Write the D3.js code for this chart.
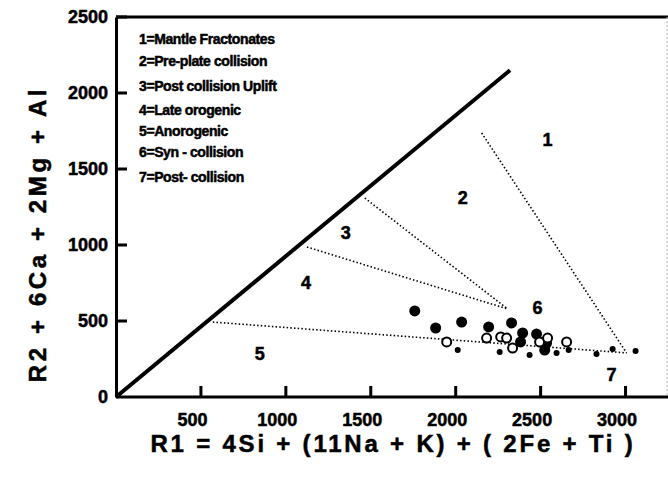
<!DOCTYPE html>
<html>
<head>
<meta charset="utf-8">
<script src="https://cdn.jsdelivr.net/npm/d3@7"></script>
<style>
  html, body { margin: 0; padding: 0; background: #fff; }
  svg { display: block; }
  text { font-family: "Liberation Sans", Arial, sans-serif; font-weight: bold; fill: #000; }
</style>
</head>
<body>
<svg id="chart" width="668" height="483"></svg>
<script>
// R1-R2 discrimination diagram (Batchelor & Bowden style)

// Axis ticks
const xTicks = [500, 1000, 1500, 2000, 2500, 3000];
const yTicks = [0, 500, 1000, 1500, 2000, 2500];

// Legend entries
const legendItems = [
  "1=Mantle Fractonates",
  "2=Pre-plate collision",
  "3=Post collision Uplift",
  "4=Late orogenic",
  "5=Anorogenic",
  "6=Syn - collision",
  "7=Post- collision"
];

// Field boundary lines: [R1, R2] end points
const mantleLine = [[0, 0], [2320, 2150]];
const field1Line = [[2153, 1737], [3006, 290]];
const field23Line = [[1465, 1309], [2306, 579]];
const field34Line = [[1124, 987], [2306, 579]];
const field45Line = [[570, 493], [3006, 290]];

// Field numbers: [label, R1, R2]
const fieldLabels = [
  ["1", 2541, 1691],
  ["2", 2041, 1309],
  ["3", 1353, 1079],
  ["4", 1118, 750],
  ["5", 847, 283],
  ["6", 2482, 586],
  ["7", 2918, 145]
];

// Samples: [R1, R2]
const filledSamples = [
  [1759, 566], [1882, 454], [2035, 493], [2194, 461], [2329, 487],
  [2394, 421], [2382, 362], [2476, 414], [2524, 309], [2535, 355]
];
const openSamples = [
  [1947, 362], [2182, 388], [2265, 395], [2300, 388], [2335, 322],
  [2494, 362], [2541, 388], [2653, 362]
];
const smallSamples = [
  [2012, 309], [2259, 296], [2435, 276], [2594, 289], [2665, 309],
  [2829, 283], [2924, 316], [3059, 303]
];

const svg = d3.select("#chart");
const x = d3.scaleLinear().domain([0, 3250]).range([116, 668]);
const y = d3.scaleLinear().domain([0, 2500]).range([397, 17]);
const heavy = sel => sel.attr("stroke", "#000").attr("stroke-width", 0.5);

// Frame: top and right borders
svg.append("line").attr("x1", x(0)).attr("x2", 668).attr("y1", y(2500)).attr("y2", y(2500))
  .attr("stroke", "#000").attr("stroke-width", 3);
svg.append("line").attr("x1", 667).attr("x2", 667).attr("y1", y(2500)).attr("y2", y(0))
  .attr("stroke", "#bbb").attr("stroke-width", 1).attr("stroke-dasharray", "2 2");

// X axis (labels) and inward tick marks
const xAxis = svg.append("g").attr("transform", `translate(0,${y(0)})`)
  .call(d3.axisBottom(x).tickValues(xTicks).tickFormat(d3.format("d"))
    .tickSize(0).tickSizeOuter(0).tickPadding(16));
xAxis.select(".domain").attr("stroke-width", 3).attr("d", `M${x(0)},0H668`);
xAxis.selectAll(".tick text").attr("font-size", 18).attr("font-weight", "bold")
  .attr("font-family", "Liberation Sans, Arial, sans-serif").attr("dx", -9).call(heavy);
svg.append("g").attr("class", "xticks").selectAll("rect").data(xTicks).join("rect")
  .attr("x", d => x(d) - 1.5).attr("y", y(0) - 11).attr("width", 3).attr("height", 11)
  .attr("fill", "#000");

// Y axis (labels) and inward tick marks
const yAxis = svg.append("g").attr("transform", `translate(${x(0)},0)`)
  .call(d3.axisLeft(y).tickValues(yTicks).tickFormat(d3.format("d"))
    .tickSize(0).tickSizeOuter(0).tickPadding(8));
yAxis.select(".domain").attr("stroke-width", 3);
yAxis.selectAll(".tick text").attr("font-size", 18).attr("font-weight", "bold")
  .attr("font-family", "Liberation Sans, Arial, sans-serif").call(heavy);
svg.append("g").attr("class", "yticks").selectAll("rect").data(yTicks.filter(d => d > 0)).join("rect")
  .attr("x", x(0)).attr("y", d => y(d) - 1.5).attr("width", 11).attr("height", 3)
  .attr("fill", "#000");

// Axis titles
svg.append("text").attr("x", 393).attr("y", 452).attr("text-anchor", "middle")
  .attr("font-size", 24).attr("letter-spacing", 2.8).call(heavy)
  .text("R1 = 4Si + (11Na + K) + ( 2Fe + Ti )");
svg.append("text").attr("transform", "translate(46,234) rotate(-90)").attr("text-anchor", "middle")
  .attr("font-size", 24).attr("letter-spacing", 3.6).call(heavy)
  .text("R2 + 6Ca + 2Mg + Al");

// Field boundaries
const line = d3.line().x(d => x(d[0])).y(d => y(d[1]));
svg.append("path").attr("d", line(mantleLine)).attr("stroke", "#000").attr("stroke-width", 4)
  .attr("fill", "none");
[field1Line, field23Line, field34Line, field45Line].forEach(seg => {
  svg.append("path").attr("d", line(seg)).attr("stroke", "#000").attr("stroke-width", 1.6)
    .attr("stroke-dasharray", "1.5 2.2").attr("fill", "none");
});

// Field numbers
svg.selectAll(".field").data(fieldLabels).join("text").attr("class", "field")
  .attr("x", d => x(d[1])).attr("y", d => y(d[2])).attr("text-anchor", "middle")
  .attr("dominant-baseline", "central").attr("font-size", 18).call(heavy).text(d => d[0]);

// Legend
svg.selectAll(".legend").data(legendItems).join("text").attr("class", "legend")
  .attr("x", 139).attr("y", (d, i) => [44, 66, 91, 115, 136, 157, 182][i])
  .attr("font-size", 14).attr("letter-spacing", -0.4).call(heavy).text(d => d);

// Samples
svg.selectAll(".small").data(smallSamples).join("circle").attr("class", "small")
  .attr("cx", d => x(d[0])).attr("cy", d => y(d[1])).attr("r", 3).attr("fill", "#000");
svg.selectAll(".filled").data(filledSamples).join("circle").attr("class", "filled")
  .attr("cx", d => x(d[0])).attr("cy", d => y(d[1])).attr("r", 5.5).attr("fill", "#000");
svg.selectAll(".open").data(openSamples).join("circle").attr("class", "open")
  .attr("cx", d => x(d[0])).attr("cy", d => y(d[1])).attr("r", 4.5).attr("fill", "#fff")
  .attr("stroke", "#000").attr("stroke-width", 2);
</script>
</body>
</html>
